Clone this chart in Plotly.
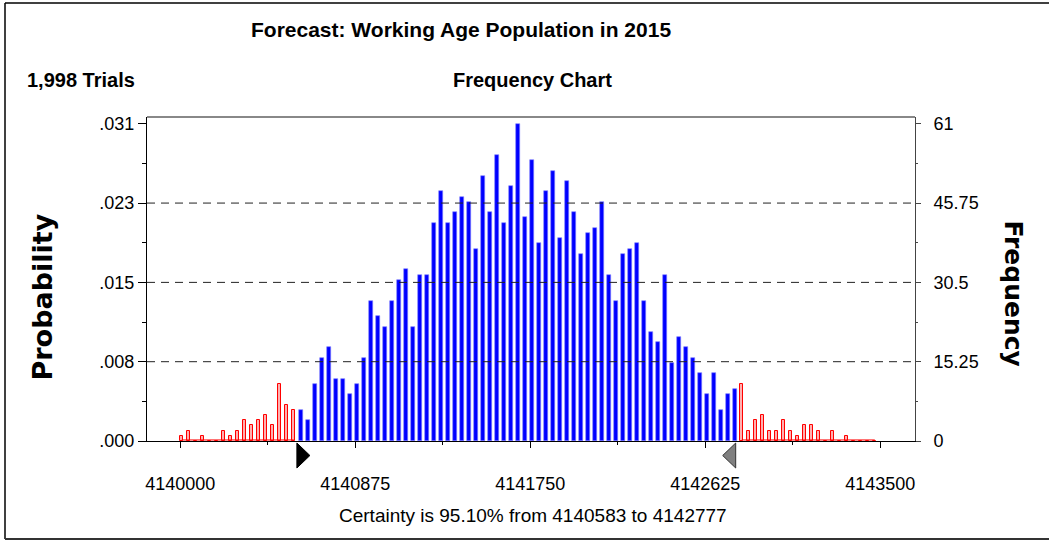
import plotly.graph_objects as go

# ---------------- data ----------------
trials = 1998
bin_start = 4140007.5          # centre of first bin
bin_width = 35
frequency = [1, 2, 0, 1, 0, 0, 2, 1, 2, 4, 3, 4, 5, 3, 11, 7,
             6, 6, 4, 11, 16, 18, 12, 12, 9, 11, 16, 27, 24, 22, 27, 31,
             33, 22, 32, 32, 42, 48, 42, 44, 47, 46, 37, 51, 44, 55, 42, 49,
             61, 43, 54, 38, 48, 52, 39, 50, 44, 36, 40, 41, 46, 32, 27, 36,
             37, 38, 27, 21, 19, 32, 15, 20, 18, 16, 13, 9, 13, 6, 9, 10,
             11, 2, 4, 5, 2, 2, 4, 2, 1, 3, 3, 2, 0, 2, 0, 1,
             0, 0, 0, 0]
bin_centers = [bin_start + bin_width * i for i in range(len(frequency))]

cert_low = 4140583
cert_high = 4142777
cert_pct = 95.10

x_tick_vals = [4140000, 4140875, 4141750, 4142625, 4143500]
x_tick_text = ["4140000", "4140875", "4141750", "4142625", "4143500"]
x_minor_vals = [4140437.5, 4141312.5, 4142187.5, 4143062.5]
freq_tick_vals = [0, 15.25, 30.5, 45.75, 61]
freq_tick_text = ["0", "15.25", "30.5", "45.75", "61"]
prob_tick_text = [".000", ".008", ".015", ".023", ".031"]
minor_freq_vals = [7.625, 22.875, 38.125, 53.375]

# ---------------- split by certainty range ----------------
in_x, in_y, out_x, out_y = [], [], [], []
for xc, f in zip(bin_centers, frequency):
    if cert_low <= xc <= cert_high:
        in_x.append(xc); in_y.append(f)
    else:
        out_x.append(xc); out_y.append(f)

FONT = "Liberation Sans, Arial, sans-serif"
L, R, T, B = 147, 134, 117, 99
W, H = 1049, 540
PW, PH = W - L - R, H - T - B


def px(x):
    return (x - L) / PW


def py(y):
    return (H - B - y) / PH


fig = go.Figure()

fig.add_trace(go.Bar(
    x=in_x, y=in_y, width=17,
    marker=dict(color="#0000ff", line=dict(color="#7f7fff", width=0.6)),
    showlegend=False, hoverinfo="x+y"))
fig.add_trace(go.Bar(
    x=out_x, y=out_y, width=14,
    marker=dict(color="#ffb0b0", line=dict(color="#ff0000", width=1)),
    showlegend=False, hoverinfo="x+y"))

# red baseline through tails
lo_tail = [x for x in out_x if x < cert_low]
hi_tail = [x for x in out_x if x > cert_high]
fig.add_trace(go.Scatter(
    x=[lo_tail[0], lo_tail[-1], None, hi_tail[0], hi_tail[-1]],
    y=[0.2, 0.2, None, 0.2, 0.2], mode="lines",
    line=dict(color="#ff0000", width=1), yaxis="y2",
    showlegend=False, hoverinfo="skip"))

fig.update_layout(
    width=W, height=H, autosize=False,
    margin=dict(l=L, r=R, t=T, b=B),
    paper_bgcolor="white", plot_bgcolor="white",
    bargap=0, showlegend=False,
    font=dict(family=FONT, color="black", size=17),
    xaxis=dict(
        range=[4139833.5, 4143673.5],
        tickmode="array", tickvals=x_tick_vals, ticktext=x_tick_text,
        ticks="outside", ticklen=6, tickcolor="black", tickwidth=1,
        minor=dict(tickmode="array", tickvals=x_minor_vals, ticks="outside",
                   ticklen=3, tickcolor="black"),
        showline=True, linecolor="black", linewidth=1,
        showgrid=False, zeroline=False,
        ticklabelstandoff=20,
        tickfont=dict(family=FONT, size=18),
    ),
    yaxis=dict(
        range=[0, 62.3],
        tickmode="array", tickvals=freq_tick_vals, ticktext=prob_tick_text,
        ticks="outside", ticklen=8, tickcolor="black",
        minor=dict(tickmode="array", tickvals=minor_freq_vals, ticks="outside",
                   ticklen=4, tickcolor="black"),
        showline=True, linecolor="black", linewidth=1,
        showgrid=False, zeroline=False,
        tickfont=dict(family=FONT, size=18),
    ),
    yaxis2=dict(
        overlaying="y", side="right",
        range=[0, 62.3],
        tickmode="array", tickvals=freq_tick_vals, ticktext=freq_tick_text,
        ticks="outside", ticklen=5, tickcolor="#444",
        minor=dict(tickmode="array", tickvals=minor_freq_vals, ticks="outside",
                   ticklen=2, tickcolor="#444"),
        showline=True, linecolor="#444", linewidth=1,
        showgrid=False, zeroline=False,
        ticklabelstandoff=9,
        tickfont=dict(family=FONT, size=18),
    ),
)

shapes = []
# dashed grid lines
for v in freq_tick_vals[1:-1]:
    shapes.append(dict(type="line", xref="paper", yref="y", x0=0, x1=1, y0=v, y1=v,
                       line=dict(color="#222", width=1, dash="8px,6px"), layer="above"))
# top frame line (gray)
shapes.append(dict(type="line", xref="paper", yref="paper", x0=0, x1=1, y0=1, y1=1,
                   line=dict(color="#888", width=2)))
# certainty markers
tri_w = 65
shapes.append(dict(type="path", xref="x", yref="paper",
                   path=f"M {cert_low},{py(443)} L {cert_low + tri_w},{py(455.5)} L {cert_low},{py(468)} Z",
                   fillcolor="black", line=dict(color="black", width=1)))
shapes.append(dict(type="path", xref="x", yref="paper",
                   path=f"M {cert_high},{py(443)} L {cert_high - tri_w},{py(455.5)} L {cert_high},{py(468)} Z",
                   fillcolor="#808080", line=dict(color="#333", width=1)))
# outer page frame
shapes.append(dict(type="line", xref="paper", yref="paper", x0=px(5), x1=px(W), y0=py(3), y1=py(3),
                   line=dict(color="black", width=1.5)))
shapes.append(dict(type="line", xref="paper", yref="paper", x0=px(5), x1=px(5), y0=py(3), y1=py(539),
                   line=dict(color="black", width=1.5)))
shapes.append(dict(type="line", xref="paper", yref="paper", x0=px(5), x1=px(W), y0=py(539), y1=py(539),
                   line=dict(color="#333", width=2)))
fig.update_layout(shapes=shapes)

BOLD = "Liberation Sans, Arial, sans-serif"
ann = [
    dict(text="<b>Forecast: Working Age Population in 2015</b>", x=px(461), y=py(30),
         font=dict(family=BOLD, size=21)),
    dict(text=f"<b>{trials:,} Trials</b>", x=px(25), y=py(80), xanchor="left",
         font=dict(family=BOLD, size=20)),
    dict(text="<b>Frequency Chart</b>", x=px(532), y=py(80),
         font=dict(family=BOLD, size=20)),
    dict(text="<b>Probability</b>", x=px(42), y=py(297.5), textangle=-90,
         font=dict(family="DejaVu Sans", size=27)),
    dict(text="<b>Frequency</b>", x=px(1013), y=py(293.5), textangle=90,
         font=dict(family="DejaVu Sans", size=25)),
    dict(text=f"Certainty is {cert_pct:.2f}% from {cert_low} to {cert_high}",
         x=px(532.5), y=py(515), font=dict(family=FONT, size=19)),
]
for a in ann:
    a.update(xref="paper", yref="paper", showarrow=False)
    a.setdefault("xanchor", "center")
    a.setdefault("yanchor", "middle")
fig.update_layout(annotations=ann)

fig.write_html("out.html", config={"displayModeBar": False},
               post_script="document.body.style.margin='0';document.body.style.overflow='hidden';")
